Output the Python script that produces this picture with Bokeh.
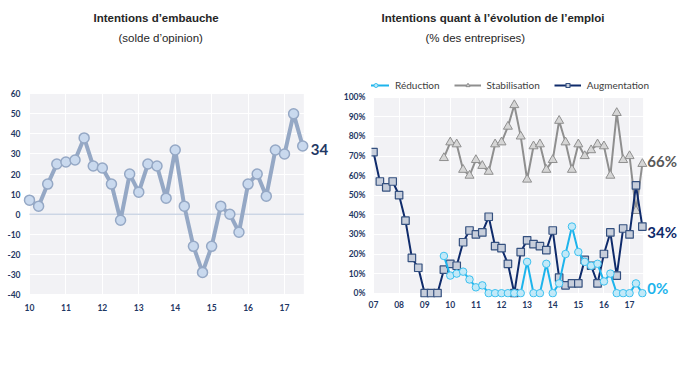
from bokeh.plotting import figure
from bokeh.models import (FixedTicker, BoxAnnotation, Title, Legend, LegendItem, Range1d)
from bokeh.layouts import row
from bokeh.embed import file_html
from bokeh.resources import INLINE
from bokeh.core.properties import value

# ---------------- data ----------------
# Left: hiring intentions (opinion balance), quarterly from 2010 Q1
hiring_start = 10.0
hiring_balance = [7, 4, 15, 25, 26, 27, 38, 24, 23, 15, -3, 20, 11, 25, 24, 8,
                  32, 4, -16, -29, -16, 4, 0, -9, 15, 20, 9, 32, 30, 50, 34]
hiring_years = [10, 11, 12, 13, 14, 15, 16, 17]
hiring_year_labels = ["10", "11", "12", "13", "14", "15", "16", "17"]
hiring_yticks = [-40, -30, -20, -10, 0, 10, 20, 30, 40, 50, 60]

# Right: employment evolution intentions (% of firms), quarterly
augmentation_start = 7.0
augmentation = [72, 57, 54, 57, 50, 37, 18, 13, 0, 0, 0, 12, 15, 14, 26, 32,
                30, 31, 39, 24, 23, 15, 0, 21, 27, 25, 24, 22, 32, 8, 4, 5,
                5, 17, 14, 5, 20, 31, 9, 33, 30, 55, 34]
stab_red_start = 9.75
stabilisation = [69, 77, 76, 63, 60, 68, 65, 62, 76, 77, 85, 96, 80, 58, 75, 76,
                 63, 68, 88, 77, 63, 76, 70, 73, 76, 75, 60, 92, 68, 70, 42, 66]
reduction = [19, 9, 10, 11, 7, 3, 4, 0, 0, 0, 0, 0, 0, 16, 0, 0,
             15, 0, 5, 20, 34, 21, 16, 14, 15, 6, 10, 0, 0, 0, 5, 0]
emp_years = [7, 8, 9, 10, 11, 12, 13, 14, 15, 16, 17]
emp_year_labels = ["07", "08", "09", "10", "11", "12", "13", "14", "15", "16", "17"]
emp_yticks = [0, 10, 20, 30, 40, 50, 60, 70, 80, 90, 100]
emp_ytick_labels = [f"{v}%" for v in emp_yticks]

series_names = ["Réduction", "Stabilisation", "Augmentation"]

def quarters(start, n):
    return [start + 0.25 * i for i in range(n)]

hx = quarters(hiring_start, len(hiring_balance))
ax_ = quarters(augmentation_start, len(augmentation))
sx = quarters(stab_red_start, len(stabilisation))
rx = quarters(stab_red_start, len(reduction))

# ---------------- style ----------------
NAVY = "#1f3864"
BG = "#f2f2f5"
TITLE_FONT = "Liberation Sans"
TICK_FONT = "Lato"


def style_axes(p, xticks, xlabels, yticks, ylabels, ystandoff, xstandoff):
    p.xaxis.ticker = FixedTicker(ticks=xticks)
    p.xaxis.major_label_overrides = {t: l for t, l in zip(xticks, xlabels)}
    p.yaxis.ticker = FixedTicker(ticks=yticks)
    p.yaxis.major_label_overrides = {t: l for t, l in zip(yticks, ylabels)}
    for a in (p.xaxis, p.yaxis):
        a.axis_line_color = None
        a.major_tick_line_color = None
        a.minor_tick_line_color = None
        a.major_tick_out = 0
        a.major_tick_in = 0
        a.major_label_text_font = TICK_FONT
        a.major_label_text_font_style = "bold"
        a.major_label_text_font_size = "8.5px"
        a.major_label_text_color = NAVY
    p.yaxis.major_label_standoff = ystandoff
    p.xaxis.major_label_standoff = xstandoff
    p.xgrid.ticker = FixedTicker(ticks=xticks)
    p.ygrid.ticker = FixedTicker(ticks=yticks)
    p.grid.grid_line_color = "white"
    p.grid.grid_line_width = 1
    p.background_fill_color = "white"
    p.border_fill_color = "white"
    p.outline_line_color = None


def add_titles(p, main, sub, off_main, off_sub):
    p.add_layout(Title(text=sub, align="left", offset=off_sub, standoff=58,
                       text_font=TITLE_FONT, text_font_style="normal",
                       text_font_size="11.5px", text_color="#262626"), "above")
    p.add_layout(Title(text=main, align="left", offset=off_main, standoff=-46,
                       text_font=TITLE_FONT, text_font_style="bold",
                       text_font_size="11.5px", text_color="#262626"), "above")


# ---------------- left chart ----------------
p1 = figure(width=340, height=376, x_range=Range1d(9.808, 18.40),
            y_range=Range1d(-41.5, 70.6), output_backend="svg", toolbar_location=None,
            min_border_left=22, min_border_right=5, min_border_top=72,
            min_border_bottom=79)
style_axes(p1, hiring_years, hiring_year_labels, hiring_yticks,
           [str(v) for v in hiring_yticks], 2, 6)
p1.add_layout(BoxAnnotation(left=hiring_years[0], right=hx[-1] + 0.03,
                            bottom=hiring_yticks[0], top=hiring_yticks[-1],
                            fill_color=BG, fill_alpha=1, line_color=None,
                            level="image"))
p1.segment(x0=[hx[0]], x1=[hx[-1] + 0.03], y0=[0], y1=[0],
           line_color="#b7c5db", line_width=1)
p1.line(hx, hiring_balance, line_color="#95a8c5", line_width=4)
p1.scatter(hx, hiring_balance, marker="circle", size=10, fill_color="#c9d9ee",
           line_color="#95a8c5", line_width=1.5)
p1.text(x=[hx[-1]], y=[hiring_balance[-1]], text=[str(hiring_balance[-1])],
        x_offset=8, y_offset=4, text_font=value("Lato"), text_font_style="bold",
        text_font_size="15px", text_color=NAVY, text_baseline="middle",
        text_align="left")
add_titles(p1, "Intentions d’embauche", "(solde d’opinion)", 71, 96)

# ---------------- right chart ----------------
p2 = figure(width=354, height=376, x_range=Range1d(6.923, 19.38),
            y_range=Range1d(-2.19, 112.6), output_backend="svg",
            toolbar_location=None, min_border_left=28, min_border_right=4,
            min_border_top=72, min_border_bottom=79)
style_axes(p2, emp_years, emp_year_labels, emp_yticks, emp_ytick_labels, 6, 3)
p2.add_layout(BoxAnnotation(left=emp_years[0], right=ax_[-1] + 0.03,
                            bottom=emp_yticks[0], top=emp_yticks[-1],
                            fill_color=BG, fill_alpha=1, line_color=None,
                            level="image"))

STAB_LINE = "#8f8f8f"
RED_LINE = "#1db4ec"
AUG_LINE = "#0f2b6b"

sl = p2.line(sx, stabilisation, line_color=STAB_LINE, line_width=2)
ss = p2.scatter(sx, stabilisation, marker="triangle", size=9, fill_color="#d6d6d6",
                line_color=STAB_LINE, line_width=1)
al = p2.line(ax_, augmentation, line_color=AUG_LINE, line_width=2)
as_ = p2.scatter(ax_, augmentation, marker="square", size=7.5, fill_color="#c7cedb",
                 line_color="#34507f", line_width=1.2)
rl = p2.line(rx, reduction, line_color=RED_LINE, line_width=2)
rs = p2.scatter(rx, reduction, marker="circle", size=7.5, fill_color="#c2e9f8",
                line_color="#3cc0ef", line_width=1)

legend = Legend(items=[LegendItem(label=series_names[0], renderers=[rl, rs]),
                       LegendItem(label=series_names[1], renderers=[sl, ss]),
                       LegendItem(label=series_names[2], renderers=[al, as_])],
                orientation="horizontal", location=(-9, 206),
                border_line_color=None, background_fill_alpha=0,
                label_text_font="Lato", label_text_font_size="10px",
                label_text_color="#404040", glyph_width=27, glyph_height=10,
                label_standoff=6, spacing=14, padding=0, margin=0)
p2.add_layout(legend)

p2.text(x=[sx[-1]], y=[stabilisation[-1]], text=[f"{stabilisation[-1]}%"],
        x_offset=5, y_offset=-3, text_font=value("Lato"), text_font_style="bold",
        text_font_size="15px", text_color="#595959", text_baseline="middle")
p2.text(x=[ax_[-1]], y=[augmentation[-1]], text=[f"{augmentation[-1]}%"],
        x_offset=5, y_offset=5, text_font=value("Lato"), text_font_style="bold",
        text_font_size="15px", text_color=AUG_LINE, text_baseline="middle")
p2.text(x=[rx[-1]], y=[reduction[-1]], text=[f"{reduction[-1]}%"],
        x_offset=5, y_offset=-5, text_font=value("Lato"), text_font_style="bold",
        text_font_size="15px", text_color=RED_LINE, text_baseline="middle")
add_titles(p2, "Intentions quant à l’évolution de l’emploi", "(% des entreprises)",
           10, 54)

layout = row(p1, p2)
open("out.html", "w").write(file_html(layout, INLINE))
